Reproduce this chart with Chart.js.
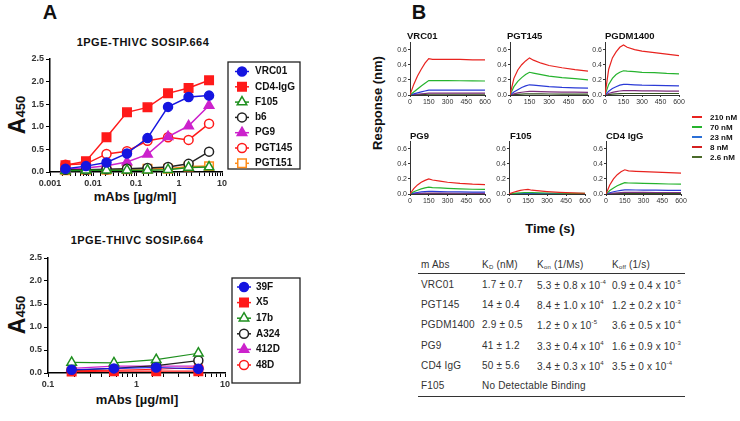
<!DOCTYPE html>
<html>
<head>
<meta charset="utf-8">
<script src="https://cdn.jsdelivr.net/npm/chart.js@4.4.1/dist/chart.umd.min.js"></script>
<style>
body { margin: 0; background: #fff; width: 740px; height: 421px; position: relative; overflow: hidden;
       font-family: "Liberation Sans", Arial, sans-serif; color: #111; }
canvas { position: absolute; }
.t { position: absolute; white-space: nowrap; transform: translate(-50%, -50%); font-weight: bold; }
.l { position: absolute; white-space: nowrap; transform: translateY(-50%); }
.rot { transform: translate(-50%, -50%) rotate(-90deg); }
.cell { position: absolute; white-space: nowrap; transform: translateY(-50%); font-size: 10px; color: #333; letter-spacing: 0.2px; }
.cell sup { font-size: 6px; vertical-align: 5px; }
.cell sub { font-size: 6px; vertical-align: -1px; }
.rule { position: absolute; height: 0; border-top: 1px solid #333; }
</style>
</head>
<body>

<div class="t" style="left:50px;top:12px;font-size:20px;">A</div>
<div class="t" style="left:419px;top:12px;font-size:20px;">B</div>

<div class="t" style="left:143px;top:42px;font-size:11px;letter-spacing:0.5px;">1PGE-THIVC SOSIP.664</div>
<div class="t rot" style="left:17px;top:115px;font-size:23px;">A<span style="font-size:13px;">450</span></div>
<div class="t" style="left:135px;top:196px;font-size:13px;">mAbs [µg/ml]</div>
<canvas id="aTop" width="305" height="140" style="left:0;top:50px;"></canvas>

<div class="t" style="left:137px;top:240px;font-size:11px;letter-spacing:0.5px;">1PGE-THIVC SOSIP.664</div>
<div class="t rot" style="left:17px;top:315px;font-size:23px;">A<span style="font-size:13px;">450</span></div>
<div class="t" style="left:137px;top:399px;font-size:13px;">mAbs [µg/ml]</div>
<canvas id="aBot" width="305" height="140" style="left:0;top:250px;"></canvas>

<div class="t rot" style="left:377px;top:103px;font-size:13px;">Response (nm)</div>
<div class="t" style="left:550px;top:228px;font-size:13px;">Time (s)</div>
<div id="kin"></div>
<div id="kinLegend"></div>
<div id="table"></div>

<script>
// ---------- panel A, top: 1PGE-THIVC SOSIP.664 ELISA
var concTop = [0.00229, 0.00686, 0.0206, 0.0617, 0.185, 0.556, 1.67, 5];
var topNames = ['VRC01', 'CD4-IgG', 'F105', 'b6', 'PG9', 'PGT145', 'PGT151'];
var vrc01  = [0.07, 0.13, 0.21, 0.41, 0.75, 1.44, 1.66, 1.69];
var cd4igg = [0.15, 0.24, 0.77, 1.32, 1.43, 1.74, 1.86, 2.03];
var f105   = [0.03, 0.04, 0.04, 0.04, 0.04, 0.05, 0.10, 0.11];
var b6     = [0.05, 0.05, 0.06, 0.07, 0.09, 0.11, 0.18, 0.45];
var pg9    = [0.06, 0.09, 0.14, 0.22, 0.39, 0.78, 1.02, 1.47];
var pgt145 = [0.16, 0.18, 0.40, 0.46, 0.69, 0.77, 0.71, 1.07];
var pgt151 = [0.04, 0.05, 0.05, 0.06, 0.07, 0.07, 0.12, 0.13];
var xLabelsTop = ['0.001', '0.01', '0.1', '1', '10'];

// ---------- panel A, bottom: non-neutralising mAbs
var concBot = [0.185, 0.556, 1.67, 5];
var botNames = ['39F', 'X5', '17b', 'A324', '412D', '48D'];
var m39f  = [0.07, 0.10, 0.12, 0.09];
var mx5   = [0.03, 0.04, 0.04, 0.04];
var m17b  = [0.23, 0.22, 0.29, 0.43];
var ma324 = [0.06, 0.10, 0.16, 0.27];
var m412d = [0.10, 0.15, 0.15, 0.15];
var m48d  = [0.05, 0.06, 0.08, 0.12];
var xLabelsBot = ['0.1', '1', '10'];
var yLabelsA = ['0.0', '0.5', '1.0', '1.5', '2.0', '2.5'];

// ---------- panel B: BLI sensorgrams (response in nm vs time in s)
var kinTimes = [0, 30, 60, 90, 120, 150, 180, 240, 300, 400, 500, 600];
var kinConcs = ['210 nM', '70 nM', '23 nM', '8 nM', '2.6 nM'];
var kinVRC01 = [
  [0, 0.14, 0.25, 0.34, 0.42, 0.48, 0.47, 0.47, 0.47, 0.47, 0.465, 0.465],
  [0, 0.04, 0.08, 0.12, 0.155, 0.19, 0.19, 0.19, 0.19, 0.188, 0.187, 0.185],
  [0, 0.014, 0.028, 0.041, 0.053, 0.065, 0.065, 0.065, 0.065, 0.065, 0.065, 0.065],
  [0, 0.005, 0.01, 0.015, 0.02, 0.025, 0.025, 0.025, 0.025, 0.025, 0.025, 0.025],
  [0, 0.002, 0.004, 0.006, 0.008, 0.01, 0.01, 0.01, 0.01, 0.01, 0.01, 0.01]
];
var kinPGT145 = [
  [0, 0.22, 0.33, 0.40, 0.45, 0.49, 0.46, 0.42, 0.39, 0.36, 0.335, 0.315],
  [0, 0.11, 0.18, 0.23, 0.27, 0.30, 0.29, 0.27, 0.25, 0.23, 0.215, 0.20],
  [0, 0.04, 0.07, 0.10, 0.12, 0.135, 0.13, 0.12, 0.11, 0.10, 0.095, 0.09],
  [0, 0.015, 0.027, 0.036, 0.043, 0.048, 0.047, 0.045, 0.042, 0.039, 0.037, 0.035],
  [0, 0.005, 0.009, 0.012, 0.014, 0.015, 0.015, 0.014, 0.013, 0.012, 0.011, 0.011]
];
var kinPGDM1400 = [
  [0, 0.34, 0.49, 0.57, 0.63, 0.66, 0.63, 0.60, 0.58, 0.56, 0.54, 0.52],
  [0, 0.14, 0.22, 0.27, 0.30, 0.32, 0.315, 0.31, 0.30, 0.295, 0.285, 0.28],
  [0, 0.05, 0.085, 0.11, 0.13, 0.14, 0.14, 0.135, 0.13, 0.127, 0.123, 0.12],
  [0, 0.02, 0.035, 0.045, 0.053, 0.058, 0.058, 0.057, 0.055, 0.054, 0.052, 0.05],
  [0, 0.006, 0.011, 0.015, 0.018, 0.02, 0.02, 0.02, 0.02, 0.02, 0.02, 0.02]
];
var kinPG9 = [
  [0, 0.07, 0.12, 0.155, 0.18, 0.20, 0.185, 0.17, 0.155, 0.14, 0.13, 0.125],
  [0, 0.03, 0.05, 0.068, 0.08, 0.09, 0.085, 0.08, 0.075, 0.068, 0.063, 0.06],
  [0, 0.012, 0.02, 0.027, 0.032, 0.036, 0.034, 0.032, 0.03, 0.027, 0.025, 0.024],
  [0, 0.004, 0.007, 0.009, 0.011, 0.012, 0.012, 0.011, 0.011, 0.01, 0.01, 0.009],
  [0, 0.001, 0.002, 0.003, 0.003, 0.004, 0.004, 0.004, 0.003, 0.003, 0.003, 0.003]
];
var kinF105 = [
  [0, 0.02, 0.035, 0.047, 0.056, 0.062, 0.05, 0.04, 0.032, 0.022, 0.015, 0.01],
  [0, 0.006, 0.011, 0.015, 0.018, 0.02, 0.018, 0.015, 0.013, 0.01, 0.008, 0.007],
  [0, 0.002, 0.004, 0.005, 0.006, 0.007, 0.006, 0.005, 0.005, 0.004, 0.003, 0.003],
  [0, 0.001, 0.001, 0.002, 0.002, 0.002, 0.002, 0.002, 0.001, 0.001, 0.001, 0.001],
  [0, 0, 0, 0, 0, 0, 0, 0, 0, 0, 0, 0]
];
var kinCD4IgG = [
  [0, 0.12, 0.2, 0.255, 0.295, 0.32, 0.305, 0.30, 0.295, 0.29, 0.282, 0.275],
  [0, 0.045, 0.08, 0.108, 0.13, 0.15, 0.145, 0.143, 0.14, 0.136, 0.132, 0.13],
  [0, 0.017, 0.03, 0.04, 0.048, 0.055, 0.054, 0.053, 0.052, 0.05, 0.049, 0.048],
  [0, 0.007, 0.012, 0.016, 0.019, 0.022, 0.022, 0.021, 0.021, 0.02, 0.02, 0.02],
  [0, 0.002, 0.004, 0.005, 0.006, 0.007, 0.007, 0.007, 0.007, 0.006, 0.006, 0.006]
];
var kinTitles = ['VRC01', 'PGT145', 'PGDM1400', 'PG9', 'F105', 'CD4 IgG'];
var kinXLabels = ['0', '150', '300', '450', '600'];
var kinYLabels = ['0.0', '0.2', '0.4', '0.6'];

// ---------- panel B: kinetics table
var tabAbs  = ['VRC01', 'PGT145', 'PGDM1400', 'PG9', 'CD4 IgG', 'F105'];
var tabKd   = ['1.7 ± 0.7', '14 ± 0.4', '2.9 ± 0.5', '41 ± 1.2', '50 ± 5.6', 'No Detectable Binding'];
var tabKon  = ['5.3 ± 0.8 x 10', '8.4 ± 1.0 x 10', '1.2 ± 0 x 10', '3.3 ± 0.4 x 10', '3.4 ± 0.3 x 10', ''];
var tabKonE = ['-4', '4', '-5', '4', '4', ''];
var tabKoff = ['0.9 ± 0.4 x 10', '1.2 ± 0.2 x 10', '3.6 ± 0.5 x 10', '1.6 ± 0.9 x 10', '3.5 ± 0 x 10', ''];
var tabKoffE = ['-5', '-3', '-4', '-3', '-4', ''];

// styles
var FONT = '"Liberation Sans", Arial, sans-serif';
var topStyle = [
  { c: '#1515e0', s: 'circle', r: 4.5, open: false },
  { c: '#ff1a1a', s: 'rect', r: 6, open: false },
  { c: '#1e8f1e', s: 'triangle', r: 5.5, open: true },
  { c: '#222222', s: 'circle', r: 4.5, open: true },
  { c: '#cc22cc', s: 'triangle', r: 5.5, open: false },
  { c: '#ff1a1a', s: 'circle', r: 4.5, open: true },
  { c: '#ff8c1a', s: 'rect', r: 6, open: true }
];
var botStyle = [
  { c: '#1515e0', s: 'circle', r: 4.5, open: false },
  { c: '#ff1a1a', s: 'rect', r: 6, open: false },
  { c: '#1e8f1e', s: 'triangle', r: 5.5, open: true },
  { c: '#222222', s: 'circle', r: 4.5, open: true },
  { c: '#cc22cc', s: 'triangle', r: 5.5, open: false },
  { c: '#ff1a1a', s: 'circle', r: 4.5, open: true }
];
var kinColors = ['#e8231f', '#26b32e', '#2b3bd6', '#7d2f7d', '#34501f'];
var kinLegendColors = ['#e8231f', '#26b32e', '#2b6fd6', '#d42020', '#4a6a2a'];

// legend box drawn inside the canvas, next to the plot
var boxLegend = {
  id: 'boxLegend',
  afterDraw: function (chart, args, opts) {
    var b = opts.box;
    if (!b) return;
    var ctx = chart.ctx;
    ctx.save();
    ctx.lineWidth = 1.3;
    ctx.strokeStyle = '#222';
    ctx.strokeRect(b.x, b.y, b.w, b.h);
    ctx.font = 'bold 10px ' + FONT;
    ctx.textBaseline = 'middle';
    chart.data.datasets.forEach(function (ds, i) {
      var y = b.first + i * b.step;
      ctx.strokeStyle = ds.borderColor;
      ctx.lineWidth = 1.5;
      ctx.beginPath();
      ctx.moveTo(b.mx - 7, y);
      ctx.lineTo(b.mx + 7, y);
      ctx.stroke();
      ctx.fillStyle = ds.pointBackgroundColor;
      Chart.helpers.drawPoint(ctx, { pointStyle: ds.pointStyle, radius: ds.pointRadius, borderWidth: 1.5, rotation: 0 }, b.mx, y);
      ctx.fillStyle = '#111';
      ctx.fillText(ds.label, b.tx, y);
    });
    ctx.restore();
  }
};

function doseChart(id, xs, names, series, styles, xmin, xmax, xLabels, lay) {
  var datasets = series.map(function (vals, i) {
    var st = styles[i];
    return {
      label: names[i],
      data: xs.map(function (x, k) { return { x: x, y: vals[k] }; }),
      borderColor: st.c,
      backgroundColor: st.c,
      pointBackgroundColor: st.open ? '#fff' : st.c,
      pointBorderColor: st.c,
      pointStyle: st.s,
      pointRadius: st.r,
      pointBorderWidth: 1.5,
      borderWidth: lay.lw,
      tension: 0,
      clip: false
    };
  });
  var log0 = Math.round(Math.log10(xmin));
  return new Chart(document.getElementById(id), {
    type: 'line',
    data: { datasets: datasets },
    plugins: [boxLegend],
    options: {
      responsive: false,
      animation: false,
      layout: { padding: { left: 0, right: lay.padRight, top: lay.padTop, bottom: 0 } },
      plugins: { legend: { display: false }, tooltip: { enabled: false }, boxLegend: { box: lay.box } },
      scales: {
        x: {
          type: 'logarithmic', min: xmin, max: xmax,
          border: { color: '#000', width: 1.5 },
          grid: { drawOnChartArea: false, tickLength: 4, color: '#000' },
          ticks: {
            autoSkip: false, maxRotation: 0, padding: 2, color: '#333',
            font: { family: FONT, size: 9, weight: 'bold' },
            callback: function (v) {
              var l = Math.log10(v);
              if (Math.abs(l - Math.round(l)) > 1e-6) return '';
              return xLabels[Math.round(l) - log0];
            }
          },
          afterFit: function (s) { s.height = lay.xh; s.paddingLeft = 0; s.paddingRight = 0; }
        },
        y: {
          min: 0, max: 2.5,
          border: { color: '#000', width: 1.5 },
          grid: { drawOnChartArea: false, tickLength: 4, color: '#000' },
          ticks: {
            stepSize: 0.5, padding: 2, color: '#333',
            font: { family: FONT, size: 9, weight: 'bold' },
            callback: function (v, i) { return yLabelsA[i]; }
          },
          afterFit: function (s) { s.width = lay.yw; s.paddingTop = 0; s.paddingBottom = 0; }
        }
      }
    }
  });
}

doseChart('aTop', concTop, topNames, [vrc01, cd4igg, f105, b6, pg9, pgt145, pgt151], topStyle,
  0.001, 10, xLabelsTop,
  { yw: 50, xh: 18, padTop: 9, padRight: 83, lw: 1.5,
    box: { x: 228, y: 12, w: 72, h: 107, first: 21.5, step: 15.3, mx: 242, tx: 255 } });

doseChart('aBot', concBot, botNames, [m39f, mx5, m17b, ma324, m412d, m48d], botStyle,
  0.1, 10, xLabelsBot,
  { yw: 48, xh: 17, padTop: 8, padRight: 80, lw: 1.1,
    box: { x: 232, y: 28, w: 68, h: 105, first: 37, step: 15.6, mx: 244, tx: 256 } });

// ---------- panel B small multiples
var kinData = [kinVRC01, kinPGT145, kinPGDM1400, kinPG9, kinF105, kinCD4IgG];
var kinBoxes = [
  { x0: 410, x1: 485, top: 42.4, bot: 95.7, tx: 407, ty: 35 },
  { x0: 510, x1: 588, top: 42.4, bot: 95.7, tx: 507, ty: 35 },
  { x0: 605, x1: 679, top: 42.4, bot: 95.7, tx: 605, ty: 35 },
  { x0: 410, x1: 485, top: 140.8, bot: 193.3, tx: 410, ty: 135 },
  { x0: 509, x1: 585, top: 140.8, bot: 193.3, tx: 510, ty: 135 },
  { x0: 606, x1: 681, top: 140.8, bot: 193.3, tx: 606, ty: 135 }
];
var kinHost = document.getElementById('kin');
kinData.forEach(function (curves, p) {
  var b = kinBoxes[p];
  var yw = 24, pt = 5, pr = 9, xh = 14;
  var cv = document.createElement('canvas');
  cv.width = Math.round(yw + (b.x1 - b.x0) + pr);
  cv.height = Math.round(pt + (b.bot - b.top) + xh);
  cv.style.left = (b.x0 - yw) + 'px';
  cv.style.top = (b.top - pt) + 'px';
  kinHost.appendChild(cv);
  var title = document.createElement('div');
  title.className = 'l';
  title.style.cssText = 'left:' + b.tx + 'px;top:' + b.ty + 'px;font-size:9.5px;font-weight:bold;';
  title.textContent = kinTitles[p];
  kinHost.appendChild(title);

  new Chart(cv, {
    type: 'line',
    data: {
      datasets: curves.map(function (vals, j) {
        return {
          data: kinTimes.map(function (t, k) { return { x: t, y: vals[k] }; }),
          borderColor: kinColors[j], borderWidth: 1.2, pointRadius: 0, tension: 0
        };
      })
    },
    options: {
      responsive: false,
      animation: false,
      layout: { padding: { left: 0, right: pr, top: pt, bottom: 0 } },
      plugins: { legend: { display: false }, tooltip: { enabled: false } },
      scales: {
        x: {
          type: 'linear', min: 0, max: 600,
          border: { color: '#333', width: 1 },
          grid: { drawOnChartArea: false, tickLength: 2, color: '#333' },
          ticks: {
            stepSize: 150, maxRotation: 0, autoSkip: false, padding: 1, color: '#333',
            font: { family: FONT, size: 7 },
            callback: function (v, i) { return kinXLabels[i]; }
          },
          afterFit: function (s) { s.height = xh; s.paddingLeft = 0; s.paddingRight = 0; }
        },
        y: {
          min: 0, max: 0.7,
          border: { color: '#333', width: 1 },
          grid: { drawOnChartArea: false, tickLength: 2, color: '#333' },
          ticks: {
            stepSize: 0.2, includeBounds: false, padding: 1, color: '#333',
            font: { family: FONT, size: 7 },
            callback: function (v, i) { return kinYLabels[i]; }
          },
          afterFit: function (s) { s.width = yw; s.paddingTop = 0; s.paddingBottom = 0; }
        }
      }
    }
  });
});

// legend for concentrations
var legHost = document.getElementById('kinLegend');
kinConcs.forEach(function (c, i) {
  var y = 117 + i * 10;
  var line = document.createElement('div');
  line.style.cssText = 'position:absolute;left:692px;top:' + (y - 1) + 'px;width:10px;height:2px;background:' + kinLegendColors[i] + ';';
  legHost.appendChild(line);
  var txt = document.createElement('div');
  txt.className = 'l';
  txt.style.cssText = 'left:710px;top:' + y + 'px;font-size:8px;font-weight:bold;';
  txt.textContent = c;
  legHost.appendChild(txt);
});

// table
var tab = document.getElementById('table');
var colX = [421, 482, 537, 612];
function cell(x, y, html) {
  var d = document.createElement('div');
  d.className = 'cell';
  d.style.left = x + 'px';
  d.style.top = y + 'px';
  d.innerHTML = html;
  tab.appendChild(d);
}
cell(colX[0], 264, 'm Abs');
cell(colX[1], 264, 'K<sub>D</sub> (nM)');
cell(colX[2], 264, 'K<sub>on</sub> (1/Ms)');
cell(colX[3], 264, 'K<sub>off</sub> (1/s)');
tabAbs.forEach(function (name, i) {
  var y = 284 + i * 20.2;
  cell(colX[0], y, name);
  cell(colX[1], y, tabKd[i]);
  if (tabKon[i]) cell(colX[2], y + 1, tabKon[i] + '<sup>' + tabKonE[i] + '</sup>');
  if (tabKoff[i]) cell(colX[3], y + 1, tabKoff[i] + '<sup>' + tabKoffE[i] + '</sup>');
});
[273, 396].forEach(function (y) {
  var r = document.createElement('div');
  r.className = 'rule';
  r.style.cssText = 'left:418px;top:' + y + 'px;width:267px;';
  tab.appendChild(r);
});
</script>
</body>
</html>
